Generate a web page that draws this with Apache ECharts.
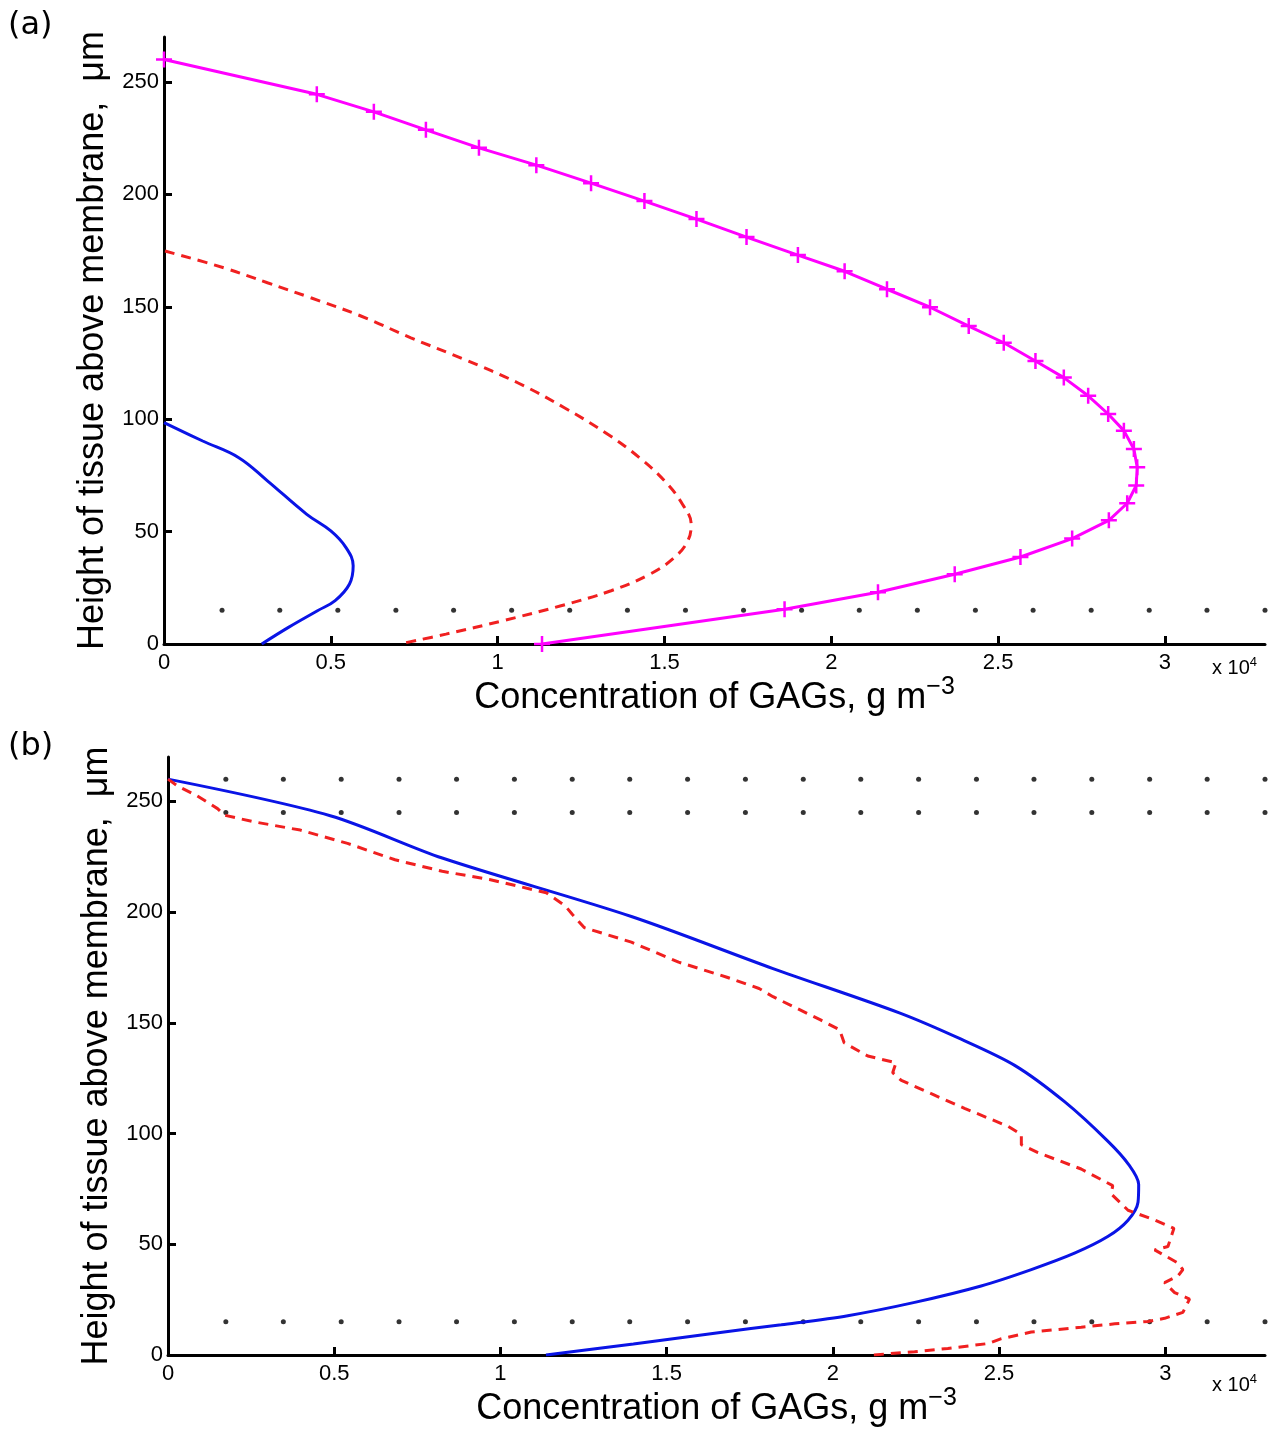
<!DOCTYPE html>
<html><head><meta charset="utf-8">
<script src="https://cdn.jsdelivr.net/npm/echarts@6/dist/echarts.min.js"></script>
<style>html,body{margin:0;padding:0;background:#fff}#c{width:1275px;height:1434px}</style>
</head><body><div id="c"></div>
<script>
// ---- tick values ----
const xTickValues = [0, 0.5, 1, 1.5, 2, 2.5, 3];
const yTickValues = [0, 50, 100, 150, 200, 250];
const xMax = 3.3;
const yMax = 270;

// ---- dotted reference rows (x in units of 10^4 g m^-3, y in µm) ----
const dotX = [0.174, 0.347, 0.521, 0.695, 0.868, 1.042, 1.216, 1.389, 1.563, 1.737,
              1.911, 2.084, 2.258, 2.432, 2.605, 2.779, 2.953, 3.126, 3.300];
const dotRowsA = [15];
const dotRowsB = [260, 245, 15];

// ---- panel (a) ----
const aBlue = [[0,98.5],[0.116,90.3],[0.223,83],[0.31,72.6],[0.427,57.8],[0.5,50.3],[0.545,43],
  [0.567,34.8],[0.556,26.7],[0.513,19.3],[0.46,14.8],[0.373,7.4],[0.293,0]];
const aRed = [[0.003,174.8],[0.18,167.3],[0.31,160.7],[0.44,154],[0.59,145.9],[0.74,136.2],
  [0.90,126.6],[1.06,116.2],[1.20,105.1],[1.33,93.3],[1.425,82.9],[1.50,72.6],[1.554,62.2],
  [1.58,53.3],[1.57,45.9],[1.53,38.5],[1.457,31.1],[1.34,23.7],[1.19,17],[1.017,10.4],
  [0.845,4.4],[0.706,0]];
const aMagenta = [[0,260],[0.458,244.5],[0.629,236.7],[0.785,228.7],[0.944,220.7],[1.116,213],
  [1.28,205],[1.44,197],[1.596,189],[1.746,181],[1.90,173],[2.04,165.8],[2.167,157.8],
  [2.296,149.8],[2.412,141.4],[2.517,134],[2.612,125.9],[2.697,118.5],[2.770,110.4],
  [2.830,102.3],[2.877,94.9],[2.907,86.7],[2.917,78.6],[2.914,70.5],[2.887,62.6],[2.832,55],
  [2.722,46.9],[2.567,38.7],[2.37,31],[2.14,23],[1.86,15.5],[1.133,0]];

// ---- panel (b) ----
const bBlue = [[0,260],[0.488,243.5],[0.825,224.4],[1.394,198],[1.82,174.5],[2.2,154.5],
  [2.386,142.6],[2.547,130.8],[2.697,114.4],[2.827,96.6],[2.89,86],[2.92,77],[2.918,69],
  [2.888,60.9],[2.827,53.5],[2.727,46],[2.597,38.6],[2.446,31.2],[2.246,23.8],[2.045,17.8],
  [1.845,13.7],[1.65,10],[1.40,5],[1.137,0]];
const bRed = [[0,260],[0.028,257],[0.085,252.7],[0.149,246.7],[0.171,243.7],[0.256,240.8],
  [0.398,237],[0.54,231],[0.683,223.6],[0.825,218.4],[0.967,214.7],[1.138,208.7],[1.195,202.8],
  [1.216,199],[1.252,193],[1.394,186.4],[1.536,177.4],[1.679,170.7],[1.778,165.5],[1.82,161.8],
  [1.963,151.3],[2.02,146.9],[2.034,141],[2.105,135],[2.19,132],[2.18,127.5],[2.206,124],
  [2.296,118],[2.396,111.4],[2.527,103.3],[2.567,99.6],[2.567,95],[2.617,91.4],[2.747,84],
  [2.842,76.5],[2.837,72.8],[2.888,65.4],[2.968,61],[3.026,57.2],[3.008,49],[2.968,47.5],
  [3.038,41.6],[3.053,38.6],[3.038,35.7],[2.998,32.7],[3.028,28.2],[3.073,25.3],[3.053,19.3],
  [2.998,16.6],[2.948,15.2],[2.848,14.1],[2.747,12.6],[2.597,10.4],[2.507,7.4],[2.466,5.2],
  [2.346,3],[2.246,1.5],[2.115,0]];

const yTitle = 'Height of tissue above membrane,  \u03bcm';
const xTitleMain = 'Concentration of GAGs, g m';
const xTitleSup = '\u22123';

const FONT = 'Liberation Sans';
const dots = rows => { const out = []; rows.forEach(r => dotX.forEach(x => out.push([x, r]))); return out; };

function xAxis(gi) {
  return {
    type: 'value', gridIndex: gi, min: 0, max: xMax,
    axisLine: { show: true, onZero: false, lineStyle: { color: '#000', width: 3 } },
    axisTick: { show: true, inside: true, length: 8, lineStyle: { color: '#000', width: 3 }, customValues: xTickValues },
    axisLabel: { color: '#000', fontFamily: FONT, fontSize: 22, margin: 8, customValues: xTickValues,
      formatter: v => String(v) },
    splitLine: { show: false },
    name: '{m|' + xTitleMain + '}{s|' + xTitleSup + '}',
    nameLocation: 'middle', nameGap: gi === 0 ? 32 : 35,
    nameTextStyle: { color: '#000', fontFamily: FONT,
      rich: {
        m: { fontSize: 36, lineHeight: 36, fontFamily: FONT, color: '#000', verticalAlign: 'bottom' },
        s: { fontSize: 25, lineHeight: 25, fontFamily: FONT, color: '#000', padding: [0, 0, 22, 0] }
      } }
  };
}
function yAxis(gi) {
  return {
    type: 'value', gridIndex: gi, min: 0, max: yMax,
    axisLine: { show: true, lineStyle: { color: '#000', width: 3 } },
    axisTick: { show: true, inside: true, length: 8, lineStyle: { color: '#000', width: 3 }, customValues: yTickValues },
    axisLabel: { color: '#000', fontFamily: FONT, fontSize: 22, margin: 5, customValues: yTickValues },
    splitLine: { show: false },
    name: yTitle, nameLocation: 'middle', nameGap: 46,
    nameTextStyle: { color: '#000', fontFamily: FONT, fontSize: 36 }
  };
}
const dotSeries = (gi, rows) => ({
  type: 'scatter', xAxisIndex: gi, yAxisIndex: gi, data: dots(rows), symbol: 'circle', symbolSize: 5,
  itemStyle: { color: '#000' }, clip: false, silent: true, z: 1
});
const lineSeries = (gi, data, color, dashed, smooth) => ({
  type: 'line', xAxisIndex: gi, yAxisIndex: gi, data, showSymbol: false, symbol: 'none',
  smooth: smooth, lineStyle: { color, width: 3, type: dashed ? [10, 7] : 'solid' },
  itemStyle: { color }, z: 3
});

const chart = echarts.init(document.getElementById('c'), null, { renderer: 'canvas' });
chart.setOption({
  backgroundColor: '#fff',
  animation: false,
  grid: [
    { left: 164, top: 37, width: 1101, height: 607 },
    { left: 168, top: 757, width: 1097, height: 603 }
  ],
  xAxis: [xAxis(0), xAxis(1)],
  yAxis: [yAxis(0), yAxis(1)],
  graphic: [
    { type: 'text', left: 8, top: 10, style: { text: '(a)', font: '32px "DejaVu Sans"', fill: '#000' } },
    { type: 'text', left: 8, top: 731, style: { text: '(b)', font: '32px "DejaVu Sans"', fill: '#000' } },
    { type: 'text', left: 1212, top: 656, style: { text: '{a|x 10}{b|4}', rich: {
        a: { fontSize: 20, fontFamily: FONT, fill: '#000', lineHeight: 20, verticalAlign: 'bottom' },
        b: { fontSize: 13, fontFamily: FONT, fill: '#000', lineHeight: 13, padding: [0, 0, 12, 0] } } } },
    { type: 'text', left: 1212, top: 1373, style: { text: '{a|x 10}{b|4}', rich: {
        a: { fontSize: 20, fontFamily: FONT, fill: '#000', lineHeight: 20, verticalAlign: 'bottom' },
        b: { fontSize: 13, fontFamily: FONT, fill: '#000', lineHeight: 13, padding: [0, 0, 12, 0] } } } }
  ],
  series: [
    dotSeries(0, dotRowsA),
    lineSeries(0, aBlue, '#0a14e6', false, 0.4),
    lineSeries(0, aRed, '#f02020', true, 0.4),
    {
      type: 'line', xAxisIndex: 0, yAxisIndex: 0, data: aMagenta, smooth: false,
      symbol: 'path://M5,0L5,10M0,5L10,5', symbolSize: 16, showSymbol: true,
      lineStyle: { color: '#ff00ff', width: 3 },
      itemStyle: { color: '#ff00ff', borderColor: '#ff00ff', borderWidth: 2.5 }, z: 4
    },
    dotSeries(1, dotRowsB),
    lineSeries(1, bBlue, '#0a14e6', false, 0.3),
    lineSeries(1, bRed, '#f02020', true, false)
  ]
});
</script></body></html>
